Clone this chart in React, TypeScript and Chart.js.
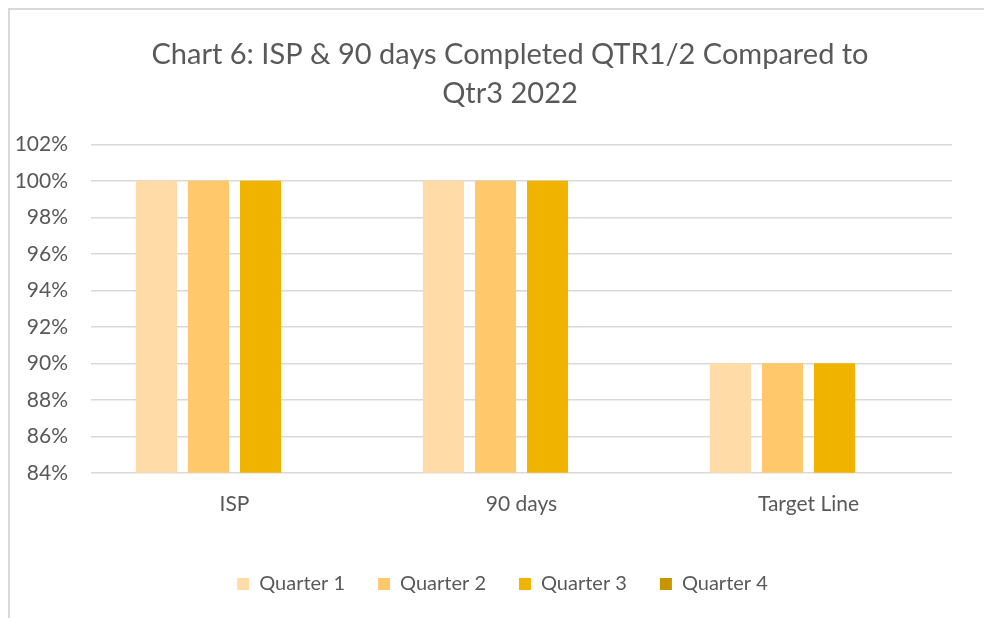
import React, { useEffect, useRef } from "react";
import { Chart, registerables } from "chart.js";

Chart.register(...registerables);

const categories = ["ISP", "90 days", "Target Line"];
const seriesNames = ["Quarter 1", "Quarter 2", "Quarter 3", "Quarter 4"];
const quarter1 = [100, 100, 90];
const quarter2 = [100, 100, 90];
const quarter3 = [100, 100, 90];
const quarter4: (number | null)[] = [null, null, null];
const seriesColors = ["#FFDBA8", "#FFC96B", "#F0B400", "#C89600"];
const titleLines = ["Chart 6: ISP & 90 days Completed QTR1/2 Compared to", "Qtr3 2022"];
const yMin = 84;
const yMax = 102;
const yStep = 2;

const FONT = "Lato, 'Open Sans', sans-serif";
const TEXT = "#595959";

// shifts the title and legend boxes so they centre like the reference
const centerShift = {
  id: "centerShift",
  afterLayout(chart: any) {
    if (chart.titleBlock) chart.titleBlock.left = 58;
    if (chart.legend) chart.legend.left = 43;
  },
};

export default function App() {
  const ref = useRef<HTMLCanvasElement | null>(null);
  useEffect(() => {
    if (!ref.current) return;
    const values = [quarter1, quarter2, quarter3, quarter4];
    const chart = new Chart(ref.current, {
      type: "bar",
      data: {
        labels: categories,
        datasets: seriesNames.map((name, i) => ({
          label: name,
          data: values[i],
          backgroundColor: seriesColors[i],
          borderWidth: 0,
          categoryPercentage: 0.725,
          barPercentage: 0.79,
        })),
      },
      plugins: [centerShift],
      options: {
        animation: false,
        responsive: false,
        maintainAspectRatio: false,
        layout: { padding: { left: 0, right: 32, top: 0, bottom: 14 } },
        plugins: {
          tooltip: { enabled: false },
          title: {
            display: true,
            text: titleLines,
            color: TEXT,
            font: { family: FONT, size: 29, weight: "normal", lineHeight: 1.35 },
            padding: { top: 25, bottom: 31 },
          },
          legend: {
            position: "bottom",
            labels: {
              color: TEXT,
              font: { family: FONT, size: 20 },
              boxWidth: 12,
              boxHeight: 12,
              padding: 33,
            },
          },
        },
        scales: {
          x: {
            grid: { display: false },
            border: { display: false },
            ticks: { color: TEXT, font: { family: FONT, size: 21 }, padding: 11 },
            afterFit: (s: any) => {
              s.height += 13;
            },
          },
          y: {
            min: yMin,
            max: yMax,
            grid: { color: "#d9d9d9", lineWidth: 1.5, drawTicks: false },
            border: { display: false },
            ticks: {
              stepSize: yStep,
              color: TEXT,
              font: { family: FONT, size: 21 },
              padding: 23,
              callback: (v: any) => v + "%",
            },
            afterFit: (s: any) => {
              s.width = 81;
            },
          },
        },
      },
    });
    return () => chart.destroy();
  }, []);
  return (
    <div
      style={{
        position: "fixed",
        left: 8,
        top: 8,
        width: 976,
        height: 610,
        boxSizing: "border-box",
        borderTop: "2px solid #d9d9d9",
        borderLeft: "2px solid #d9d9d9",
        overflow: "hidden",
      }}
    >
      <canvas ref={ref} width={974} height={608} style={{ display: "block" }} />
    </div>
  );
}
